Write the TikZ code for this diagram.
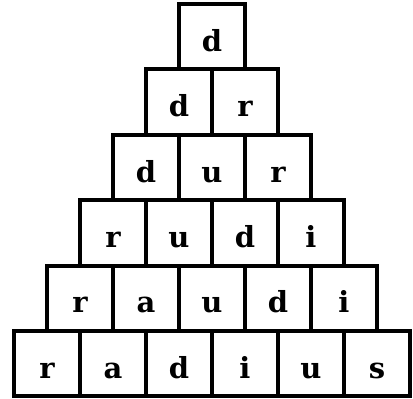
\documentclass[tikz,border=0pt]{standalone}
\usepackage{fontspec}
\setmainfont{DejaVu Serif}
\begin{document}
\begin{tikzpicture}[x=1pt,y=-1pt,
  cell/.style={draw=black, line width=4pt, rectangle, inner sep=0pt,
    minimum width=66pt, minimum height=65.4pt, text height=29pt, text depth=0pt,
    font=\fontsize{29}{29}\selectfont\bfseries}]
\fill[white] (0,0) rectangle (413,399);
\useasboundingbox (0,0) rectangle (413,399);
\foreach \letters [count=\r] in {{d},{d,r},{d,u,r},{r,u,d,i},{r,a,u,d,i},{r,a,d,i,u,s}} {
  \foreach \ch [count=\c] in \letters {
    \node[cell] (c\r-\c) at ({212-\r*33+(\c-0.5)*66}, {4+(\r-1)*65.4+32.7}) {\ch};
  }
}
\end{tikzpicture}
\end{document}
